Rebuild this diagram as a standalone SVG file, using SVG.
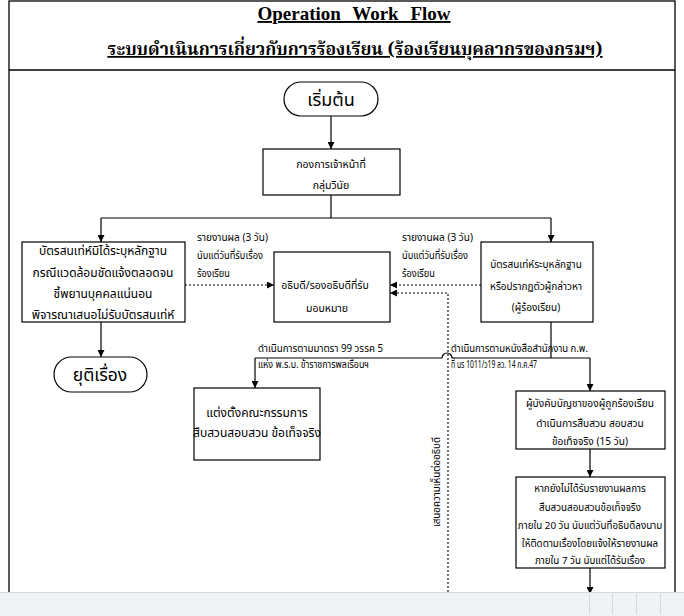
<svg xmlns="http://www.w3.org/2000/svg" width="684" height="616" viewBox="0 0 684 616">
<style>
.box{fill:#fff;stroke:#000;stroke-width:1.2}
.ln{fill:none;stroke:#000;stroke-width:1.2}
.dot{fill:none;stroke:#000;stroke-width:1.1;stroke-dasharray:2,2}
.t{font-family:"Noto Sans Thai","Loma","Garuda","Noto Sans","DejaVu Sans",sans-serif;font-size:12px;fill:#000;text-anchor:middle}
.s{font-family:"Noto Sans Thai","Loma","Garuda","Noto Sans","DejaVu Sans",sans-serif;font-size:10.5px;fill:#000}
.big{font-family:"Noto Sans Thai","Loma","Garuda","Noto Sans","DejaVu Sans",sans-serif;font-size:18px;fill:#000;text-anchor:middle}
</style>
<defs>
<marker id="ah" viewBox="0 0 10 10" refX="10" refY="5" markerWidth="7" markerHeight="7" markerUnits="userSpaceOnUse" orient="auto">
<path d="M0,0 L10,5 L0,10 z" fill="#000"/>
</marker>
</defs>
<rect width="684" height="616" fill="#fff"/>
<g id="frame">
<rect x="9" y="1" width="666" height="640" fill="none" stroke="#000" stroke-width="1.3"/>
<line x1="9" y1="70" x2="675" y2="70" stroke="#000" stroke-width="1.3"/>
</g>
<g id="title">
<text x="354" y="20" text-anchor="middle" font-family="Liberation Serif, serif" font-size="19" font-weight="bold" text-decoration="underline" word-spacing="7">Operation Work Flow</text>
<text x="355" y="55" text-anchor="middle" font-family="'Noto Serif Thai','Noto Sans Thai','Loma',serif" font-size="17.5" font-weight="bold" text-decoration="underline">ระบบดำเนินการเกี่ยวกับการร้องเรียน (ร้องเรียนบุคลากรของกรมฯ)</text>
</g>
<g id="connectors">
<line class="ln" x1="331" y1="116" x2="331" y2="149" marker-end="url(#ah)"/>
<polyline class="ln" points="331,195 331,218"/>
<polyline class="ln" points="101,218 551,218"/>
<line class="ln" x1="101" y1="218" x2="101" y2="242" marker-end="url(#ah)"/>
<line class="ln" x1="551" y1="218" x2="551" y2="242" marker-end="url(#ah)"/>
<line class="ln" x1="101" y1="322" x2="101" y2="357" marker-end="url(#ah)"/>
<line class="dot" x1="185" y1="285" x2="274" y2="285" marker-end="url(#ah)"/>
<line class="dot" x1="481" y1="285" x2="390" y2="285" marker-end="url(#ah)"/>
<polyline class="dot" points="448,600 448,293 390,293" marker-end="url(#ah)"/>
<line class="ln" x1="551" y1="322" x2="551" y2="358"/>
<path class="ln" d="M255,358 L442,358 A5,5 0 0 1 452,358 L590,358"/>
<line class="ln" x1="255" y1="358" x2="255" y2="388" marker-end="url(#ah)"/>
<line class="ln" x1="590" y1="358" x2="590" y2="391" marker-end="url(#ah)"/>
<line class="ln" x1="590" y1="449" x2="590" y2="477" marker-end="url(#ah)"/>
<line class="ln" x1="590" y1="568" x2="590" y2="594" marker-end="url(#ah)"/>
<text class="s" x="197" y="241" textLength="71" lengthAdjust="spacingAndGlyphs">รายงานผล (3 วัน)</text>
<text class="s" x="197" y="259" textLength="66" lengthAdjust="spacingAndGlyphs">นับแต่วันที่รับเรื่อง</text>
<text class="s" x="197" y="277" textLength="33" lengthAdjust="spacingAndGlyphs">ร้องเรียน</text>
<text class="s" x="402" y="241" textLength="71" lengthAdjust="spacingAndGlyphs">รายงานผล (3 วัน)</text>
<text class="s" x="402" y="259" textLength="66" lengthAdjust="spacingAndGlyphs">นับแต่วันที่รับเรื่อง</text>
<text class="s" x="402" y="277" textLength="33" lengthAdjust="spacingAndGlyphs">ร้องเรียน</text>
<text class="s" x="258" y="352" textLength="125" lengthAdjust="spacingAndGlyphs">ดำเนินการตามมาตรา 99 วรรค 5</text>
<text class="s" x="258" y="368" textLength="111" lengthAdjust="spacingAndGlyphs">แห่ง พ.ร.บ. ข้าราชการพลเรือนฯ</text>
<text class="s" x="451" y="352" textLength="137" lengthAdjust="spacingAndGlyphs">ดำเนินการตามหนังสือสำนักงาน ก.พ.</text>
<text class="s" x="451" y="368" textLength="86" lengthAdjust="spacingAndGlyphs">ที่ นร 1011/ว19  ลว. 14 ก.ค.47</text>
<text class="s" x="0" y="0" text-anchor="middle" transform="translate(440,482) rotate(-90)" textLength="90" lengthAdjust="spacingAndGlyphs">เสนอความเห็นต่ออธิบดี</text>
</g>
<g id="start">
<rect class="box" x="284" y="82" width="94" height="34" rx="17"/>
<text class="big" x="331" y="106">เริ่มต้น</text>
</g>
<g id="hr">
<rect class="box" x="263" y="149" width="137" height="46"/>
<text class="t" x="331" y="168" style="font-size:10.5px">กองการเจ้าหน้าที่</text>
<text class="t" x="331" y="189" style="font-size:10.5px">กลุ่มวินัย</text>
</g>
<g id="noevidence">
<rect class="box" x="22" y="242" width="163" height="80"/>
<text class="t" x="103" y="255">บัตรสนเท่ห์มิได้ระบุหลักฐาน</text>
<text class="t" x="103" y="277">กรณีแวดล้อมชัดแจ้งตลอดจน</text>
<text class="t" x="103" y="298">ชี้พยานบุคคลแน่นอน</text>
<text class="t" x="103" y="319">พิจารณาเสนอไม่รับบัตรสนเท่ห์</text>
</g>
<g id="director">
<rect class="box" x="274" y="252" width="116" height="70"/>
<text class="t" x="325" y="289" style="font-size:10.5px">อธิบดี/รองอธิบดีที่รับ</text>
<text class="t" x="327" y="312" style="font-size:10.5px">มอบหมาย</text>
</g>
<g id="evidence">
<rect class="box" x="481" y="242" width="112" height="80"/>
<text class="t" x="536" y="268" style="font-size:10px">บัตรสนเท่ห์ระบุหลักฐาน</text>
<text class="t" x="536" y="290" style="font-size:10px">หรือปรากฏตัวผู้กล่าวหา</text>
<text class="t" x="536" y="311" style="font-size:10px">(ผู้ร้องเรียน)</text>
</g>
<g id="end">
<rect class="box" x="54" y="357" width="93" height="35" rx="17.5"/>
<text class="big" x="100" y="381" style="font-size:17.5px">ยุติเรื่อง</text>
</g>
<g id="committee">
<rect class="box" x="194" y="388" width="126" height="72"/>
<text class="t" x="257" y="417">แต่งตั้งคณะกรรมการ</text>
<text class="t" x="257" y="437">สืบสวนสอบสวน ข้อเท็จจริง</text>
</g>
<g id="supervisor">
<rect class="box" x="516" y="391" width="149" height="58"/>
<text class="t" x="590" y="407" style="font-size:10.2px">ผู้บังคับบัญชาของผู้ถูกร้องเรียน</text>
<text class="t" x="590" y="427" style="font-size:10.2px">ดำเนินการสืบสวน สอบสวน</text>
<text class="t" x="590" y="445" style="font-size:10.2px">ข้อเท็จจริง (15 วัน)</text>
</g>
<g id="followup">
<rect class="box" x="516" y="477" width="149" height="91"/>
<text class="s" x="590" y="492" text-anchor="middle" style="font-size:9.8px">หากยังไม่ได้รับรายงานผลการ</text>
<text class="s" x="590" y="511" text-anchor="middle" style="font-size:9.8px">สืบสวนสอบสวนข้อเท็จจริง</text>
<text class="s" x="590" y="529" text-anchor="middle" style="font-size:9.8px">ภายใน 20 วัน นับแต่วันที่อธิบดีลงนาม</text>
<text class="s" x="590" y="547" text-anchor="middle" style="font-size:9.8px">ให้ติดตามเรื่องโดยแจ้งให้รายงานผล</text>
<text class="s" x="590" y="564" text-anchor="middle" style="font-size:9.8px">ภายใน 7 วัน นับแต่ได้รับเรื่อง</text>
</g>
<g id="bar">
<rect x="0" y="592" width="684" height="24" fill="#f0f2f6"/>
<line x1="0" y1="592.5" x2="684" y2="592.5" stroke="#d6d8dc"/>
<line x1="589.5" y1="594" x2="589.5" y2="614" stroke="#d6d8dc"/>
<line x1="612.5" y1="594" x2="612.5" y2="614" stroke="#d6d8dc"/>
<line x1="636.5" y1="594" x2="636.5" y2="614" stroke="#d6d8dc"/>
<line x1="660.5" y1="594" x2="660.5" y2="614" stroke="#d6d8dc"/>
</g>
</svg>
